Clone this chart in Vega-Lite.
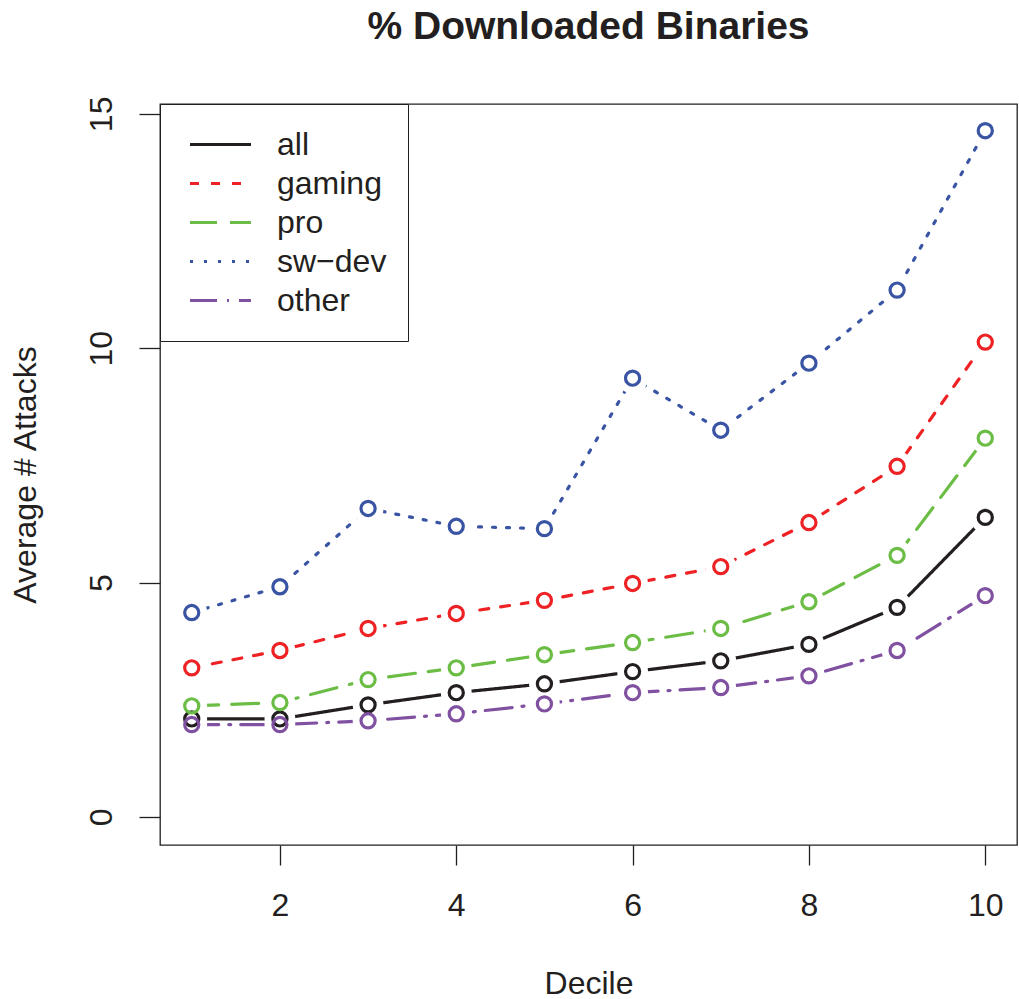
{
  "$schema": "https://vega.github.io/schema/vega-lite/v6.json",
  "width": 857,
  "height": 741,
  "autosize": {"type": "none"},
  "padding": {"left": 160, "top": 104, "right": 2, "bottom": 154},
  "background": "white",
  "title": {"text": "% Downloaded Binaries", "fontSize": 39, "fontWeight": "bold", "font": "Liberation Sans", "color": "#231f20", "offset": 49, "anchor": "middle"},
  "config": {
    "view": {"stroke": "#231f20", "strokeWidth": 1.3},
    "font": "Liberation Sans"
  },
  "data": {"values": [
    {"decile": 1, "group": "all", "value": 2.09},
    {"decile": 2, "group": "all", "value": 2.09},
    {"decile": 3, "group": "all", "value": 2.39},
    {"decile": 4, "group": "all", "value": 2.65},
    {"decile": 5, "group": "all", "value": 2.84},
    {"decile": 6, "group": "all", "value": 3.10},
    {"decile": 7, "group": "all", "value": 3.33},
    {"decile": 8, "group": "all", "value": 3.68},
    {"decile": 9, "group": "all", "value": 4.47},
    {"decile": 10, "group": "all", "value": 6.39},
    {"decile": 1, "group": "gaming", "value": 3.18},
    {"decile": 2, "group": "gaming", "value": 3.55},
    {"decile": 3, "group": "gaming", "value": 4.02},
    {"decile": 4, "group": "gaming", "value": 4.34},
    {"decile": 5, "group": "gaming", "value": 4.62},
    {"decile": 6, "group": "gaming", "value": 4.98},
    {"decile": 7, "group": "gaming", "value": 5.34},
    {"decile": 8, "group": "gaming", "value": 6.28},
    {"decile": 9, "group": "gaming", "value": 7.48},
    {"decile": 10, "group": "gaming", "value": 10.13},
    {"decile": 1, "group": "pro", "value": 2.37},
    {"decile": 2, "group": "pro", "value": 2.44},
    {"decile": 3, "group": "pro", "value": 2.93},
    {"decile": 4, "group": "pro", "value": 3.18},
    {"decile": 5, "group": "pro", "value": 3.46},
    {"decile": 6, "group": "pro", "value": 3.72},
    {"decile": 7, "group": "pro", "value": 4.02},
    {"decile": 8, "group": "pro", "value": 4.59},
    {"decile": 9, "group": "pro", "value": 5.58},
    {"decile": 10, "group": "pro", "value": 8.08},
    {"decile": 1, "group": "sw\u2212dev", "value": 4.36},
    {"decile": 2, "group": "sw\u2212dev", "value": 4.91},
    {"decile": 3, "group": "sw\u2212dev", "value": 6.58},
    {"decile": 4, "group": "sw\u2212dev", "value": 6.20},
    {"decile": 5, "group": "sw\u2212dev", "value": 6.15},
    {"decile": 6, "group": "sw\u2212dev", "value": 9.36},
    {"decile": 7, "group": "sw\u2212dev", "value": 8.25},
    {"decile": 8, "group": "sw\u2212dev", "value": 9.68},
    {"decile": 9, "group": "sw\u2212dev", "value": 11.24},
    {"decile": 10, "group": "sw\u2212dev", "value": 14.64},
    {"decile": 1, "group": "other", "value": 1.97},
    {"decile": 2, "group": "other", "value": 1.97},
    {"decile": 3, "group": "other", "value": 2.05},
    {"decile": 4, "group": "other", "value": 2.20},
    {"decile": 5, "group": "other", "value": 2.41},
    {"decile": 6, "group": "other", "value": 2.65},
    {"decile": 7, "group": "other", "value": 2.76},
    {"decile": 8, "group": "other", "value": 3.01},
    {"decile": 9, "group": "other", "value": 3.55},
    {"decile": 10, "group": "other", "value": 4.72}
  ]},
  "encoding": {
    "x": {
      "field": "decile", "type": "quantitative",
      "scale": {"domain": [0.64, 10.36], "nice": false, "zero": false},
      "axis": {
        "title": "Decile", "values": [2, 4, 6, 8, 10], "grid": false, "domain": false,
        "tickSize": 20, "tickColor": "#231f20", "tickWidth": 1.3,
        "labelFontSize": 32, "labelColor": "#231f20", "labelPadding": 25, "labelFont": "Liberation Sans",
        "titleFontSize": 32, "titleFontWeight": "normal", "titleColor": "#231f20", "titlePadding": 47, "titleFont": "Liberation Sans"
      }
    },
    "y": {
      "field": "value", "type": "quantitative",
      "scale": {"domain": [-0.6, 15.21], "nice": false, "zero": false},
      "axis": {
        "title": "Average # Attacks", "values": [0, 5, 10, 15], "grid": false, "domain": false,
        "tickSize": 21, "tickColor": "#231f20", "tickWidth": 1.3,
        "labelFontSize": 32, "labelColor": "#231f20", "labelPadding": 21, "labelAngle": -90, "labelFont": "Liberation Sans",
        "titleFontSize": 32, "titleFontWeight": "normal", "titleColor": "#231f20", "titlePadding": 43, "titleFont": "Liberation Sans"
      }
    },
    "color": {
      "field": "group", "type": "nominal",
      "scale": {"domain": ["all", "gaming", "pro", "sw\u2212dev", "other"], "range": ["#231f20", "#ee2124", "#6cbd45", "#3a54a4", "#8151a1"]},
      "legend": {
        "title": null, "orient": "none", "legendX": 0, "legendY": 0,
        "symbolType": "stroke", "symbolSize": 3721, "symbolStrokeWidth": 3.2,
        "labelFontSize": 32, "labelColor": "#231f20", "labelOffset": 24, "labelFont": "Liberation Sans",
        "padding": 21, "symbolOffset": 7, "rowPadding": 0, "clipHeight": 39,
        "fillColor": "white", "strokeColor": "#231f20"
      }
    }
  },
  "layer": [
    {
      "mark": {"type": "line", "strokeWidth": 3.2, "strokeCap": "round"},
      "encoding": {
        "strokeDash": {
          "field": "group", "type": "nominal",
          "scale": {"domain": ["all", "gaming", "pro", "sw\u2212dev", "other"], "range": [[1, 0], [9, 12], [27, 13], [3, 11], [27, 10, 2, 10]]},
          "legend": {
            "title": null, "orient": "none", "legendX": 0, "legendY": 0,
            "symbolType": "stroke", "symbolSize": 3721, "symbolStrokeWidth": 3.2,
            "labelFontSize": 32, "labelColor": "#231f20", "labelOffset": 24, "labelFont": "Liberation Sans",
            "padding": 21, "symbolOffset": 7, "rowPadding": 0, "clipHeight": 39,
            "fillColor": "white", "strokeColor": "#231f20"
          }
        }
      }
    },
    {
      "mark": {"type": "point", "shape": "circle", "filled": true, "size": 950, "strokeWidth": 0, "opacity": 1},
      "encoding": {"color": {"value": "white"}}
    },
    {
      "mark": {"type": "point", "shape": "circle", "filled": false, "size": 200, "strokeWidth": 3.2, "opacity": 1}
    }
  ]
}
